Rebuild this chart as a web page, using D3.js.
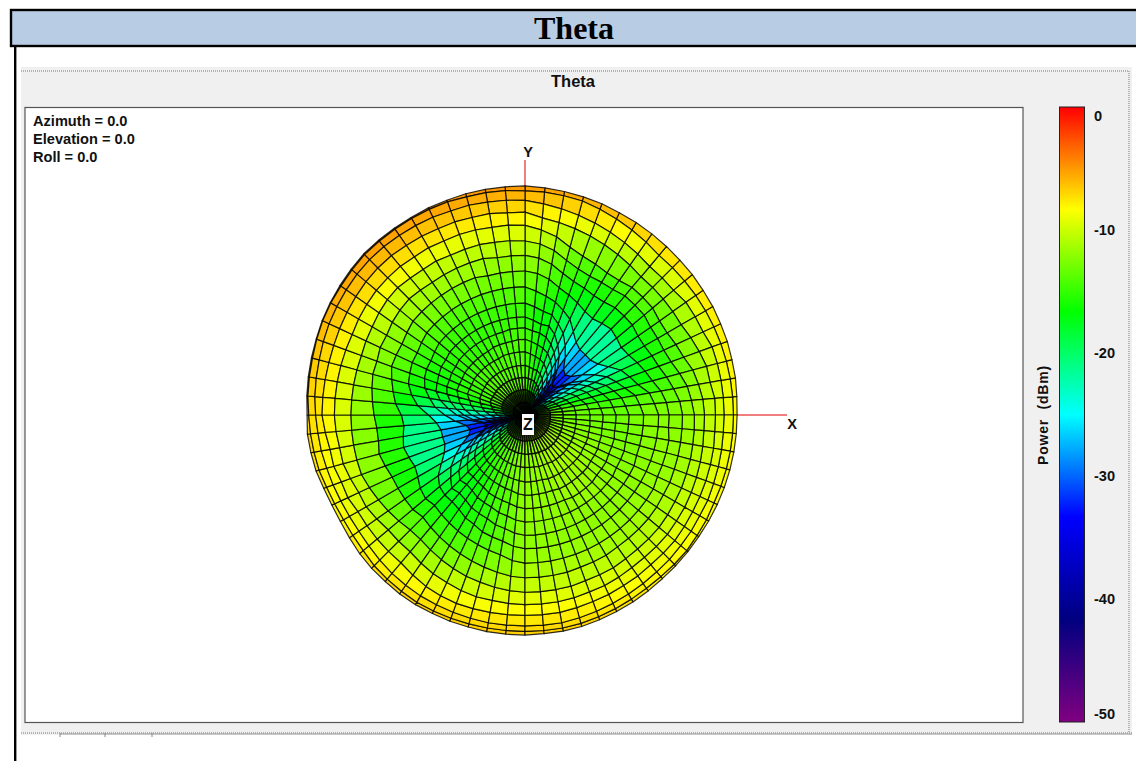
<!DOCTYPE html>
<html><head><meta charset="utf-8">
<style>html,body{margin:0;padding:0;background:#fff;overflow:hidden}svg{display:block}</style>
<script src="https://cdnjs.cloudflare.com/ajax/libs/d3/7.8.5/d3.min.js"></script>
</head><body><svg id="c" width="1136" height="761"></svg>
<script>
const pageTitle = "Theta";
const chartTitle = "Theta";
const orientation = ["Azimuth = 0.0", "Elevation = 0.0", "Roll = 0.0"];
const axisLabels = ["X", "Y", "Z"];
const legendTitle = "Power  (dBm)";
const legendTicks = [0, -10, -20, -30, -40, -50];
const colorStops = [0, -8.33, -16.67, -25, -33.33, -41.67, -50];
const colorNames = ["#ff0000", "#ffff00", "#00ff00", "#00ffff", "#0000ff", "#000080", "#800080"];
const thetaDegrees = [5,10,15,20,25,30,35,40,45,50,55,60,65,70,75,80,85,90];
const ringFractions = [.065,.135,.205,.275,.35,.42,.49,.56,.63,.70,.765,.825,.875,.91,.945,.975,.995,1];
const poleValue = -13;
// Power (dBm) at phi = 0,5,...,355 for each theta ring
const ring05 = [-13,-13,-13.5,
 -15,-16,-17,-20,-24,-30,-40,-30,-24,-20,-17,-16,-15,
 -14.5,-14,-13,-13,-13,-13,-13,-13,-13,-13,-13,-13,-13,-13.5,-13.5,-14,-14,
 -15,-16,-17,-20,-24,-30,-40,-30,-24,-20,-17,-16,-15,
 -14.5,-14,-13.5,-13.5,-13,-13,-12.5,-12,-12,-12,-12,-11.5,-11.5,-11.5,-11,-11,-11,-11,-11,-11.5,-11.5,-12,-12,-12.5,-12.5,-13];
const ring10 = [-13,-13,-13.5,
 -15.5,-17,-19,-22,-26,-32,-40,-32,-26,-22,-19,-17,-15.5,
 -15,-14,-13,-13,-13,-13,-13,-13,-13,-13,-13,-13,-13,-13.5,-13.5,-14,-14,
 -15.5,-17,-19,-22,-26,-32,-40,-32,-26,-22,-19,-17,-15.5,
 -14.5,-14,-13.5,-13.5,-13,-13,-12.5,-12,-12,-12,-12,-11.5,-11.5,-11.5,-11,-11,-11,-11,-11,-11.5,-11.5,-12,-12,-12.5,-12.5,-13];
const ring15 = [-13,-13.5,-14,
 -16,-18,-20,-23,-27,-33,-40,-33,-27,-23,-20,-18,-16,
 -15,-14.5,-13.5,-13.5,-13.5,-13.5,-13.5,-13.5,-13.5,-13.5,-13.5,-13.5,-13.5,-14,-14,-14,-14,
 -16,-18,-20,-23,-27,-33,-40,-33,-27,-23,-20,-18,-16,
 -15,-14.5,-14,-13.5,-13.5,-13,-12.5,-12.5,-12,-12,-12,-11.5,-11.5,-11.5,-11,-11,-11,-11,-11,-11.5,-11.5,-12,-12,-12.5,-12.5,-13];
const ring20 = [-13,-13.5,-14,
 -16.5,-18,-20.5,-24,-28,-33,-40,-33,-28,-24,-20.5,-18,-16.5,
 -16,-15,-14,-14,-14,-14,-14,-14,-14,-14,-14,-14,-14,-14.5,-14.5,-15,-15,
 -16.5,-18,-20.5,-24,-28,-33,-40,-33,-28,-24,-20.5,-18,-16.5,
 -15.5,-15,-14.5,-14,-13.5,-13,-12.5,-12.5,-12,-12,-12,-11.5,-11.5,-11.5,-11,-11,-11,-11,-11,-11.5,-11.5,-12,-12,-12.5,-12.5,-13];
const ring25 = [-13,-13.5,-14.5,
 -17,-18.5,-21,-24,-28,-33,-40,-33,-28,-24,-21,-18.5,-17,
 -16,-15,-14,-14,-14,-14,-14,-14.5,-14.5,-14.5,-14.5,-14.5,-14.5,-14.5,-15,-15,-15,
 -17,-18.5,-21,-24,-28,-33,-40,-33,-28,-24,-21,-18.5,-17,
 -16,-15.5,-15,-14.5,-14,-13.5,-13,-12.5,-12,-12,-12,-12,-11.5,-11.5,-11.5,-11.5,-11.5,-11.5,-11.5,-11.5,-12,-12,-12,-12.5,-12.5,-13];
const ring30 = [-13,-14,-15,
 -17,-18.5,-21,-24,-28,-33,-39,-33,-28,-24,-21,-18.5,-17,
 -16,-15,-14,-14,-14.5,-14.5,-14.5,-14.5,-15,-15,-15,-15,-15,-15,-15.5,-15.5,-15.5,
 -17,-18.5,-21,-24,-28,-33,-39,-33,-28,-24,-21,-18.5,-17,
 -16.5,-16,-15.5,-15,-14.5,-14,-13.5,-12.5,-12,-12,-12,-12,-12,-11.5,-11.5,-11.5,-11.5,-11.5,-11.5,-12,-12,-12,-12.5,-12.5,-13,-13];
const ring35 = [-13,-14,-15,
 -17,-19,-21.5,-24.5,-28,-32,-37,-32,-28,-24.5,-21.5,-19,-17,
 -16,-15.5,-14.5,-14.5,-14.5,-15,-15,-15,-15,-15,-15,-15,-15,-15.5,-15.5,-16,-16,
 -17,-19,-21.5,-24.5,-28,-32,-37,-32,-28,-24.5,-21.5,-19,-17,
 -17,-16.5,-16,-15,-14.5,-14,-13.5,-12.5,-12,-12,-12,-12,-12,-12,-11.5,-11.5,-11.5,-11.5,-12,-12,-12,-12.5,-12.5,-12.5,-13,-13];
const ring40 = [-13,-14,-15,
 -17,-19,-22,-25,-29,-33,-35,-33,-29,-25,-22,-19,-17,
 -17,-16,-15,-15,-15,-15,-15,-15,-15,-15,-15,-15,-15,-15.5,-15.5,-16,-16.5,
 -17,-19,-22,-25,-29,-33,-35,-33,-29,-25,-22,-19,-17,
 -17.5,-17,-16,-15.5,-15,-14,-13.5,-12.5,-12,-12,-12,-12,-12,-12,-12,-12,-12,-12,-12,-12,-12.5,-12.5,-12.5,-13,-13,-13];
const ring45 = [-12.5,-13.5,-14.5,
 -17,-19,-21,-24,-27,-30,-31,-30,-27,-24,-21,-19,-17,
 -16.5,-15.5,-14.5,-14.5,-14.5,-14.5,-14.5,-14.5,-14.5,-14.5,-14.5,-14.5,-14.5,-15,-15.5,-15.5,-16,
 -17,-19,-21,-24,-27,-30,-31,-30,-27,-24,-21,-19,-17,
 -17.5,-17,-16,-15.5,-15,-14,-13.5,-12.5,-12,-12,-12,-12,-12,-12,-12,-12,-12,-12,-12,-12,-12,-12,-12.5,-12.5,-12.5,-12.5];
const ring50 = [-12,-13,-14,
 -16.5,-18,-19.5,-22,-24,-25,-25,-25,-24,-22,-19.5,-18,-16.5,
 -15.5,-14.5,-13.5,-13.5,-13.5,-13.5,-13.5,-13.5,-13.5,-13.5,-13.5,-13.5,-13.5,-14,-14.5,-14.5,-15,
 -15.5,-17,-19,-22,-24,-25,-25,-25,-24,-22,-19.5,-18,-17.5,
 -17.5,-17,-16,-15.5,-14.5,-14,-13.5,-12.5,-12,-12,-12,-12,-12,-12,-12,-12,-12,-12,-12,-12,-12,-12,-12,-12,-12,-12];
const ring55 = [-12.5,-13,-14,
 -15.5,-16.5,-17.5,-18.5,-19,-18.5,-18,-18.5,-19,-18.5,-17.5,-16.5,-15.5,
 -14,-13,-12.5,-12.5,-12.5,-12.5,-12,-12,-12,-12,-12,-12,-12,-12.5,-13,-13,-13,
 -14,-15,-16,-17.5,-18,-17.5,-17,-17.5,-18,-17.5,-16.5,-16,-16.5,
 -16,-15.5,-15,-14.5,-14,-13.5,-13,-12,-11.5,-11.5,-11.5,-11.5,-11.5,-11.5,-11.5,-11.5,-11.5,-11.5,-11.5,-11.5,-11.5,-12,-12,-12,-12,-12.5];
const ring60 = [-12,-12.5,-13.5,
 -14.5,-15.5,-16,-16.5,-16.5,-16,-16,-16,-16.5,-16.5,-16,-15.5,-14.5,
 -13,-12,-11.5,-11.5,-11.5,-11,-11,-11,-11,-11,-10.8,-10.5,-10.7,-11,-11.5,-11.5,-12,
 -12,-12.5,-13,-13.5,-14,-14,-13.5,-14,-14.5,-14.5,-14.5,-14.5,-15,
 -14.5,-14,-13.5,-13,-12.5,-12,-11.5,-11,-10.8,-10.8,-10.8,-10.8,-11,-11,-11,-11.2,-11.2,-11.2,-11.2,-11.3,-11.5,-11.5,-11.7,-11.8,-11.9,-12];
const ring65 = [-11.5,-12,-12.5,
 -13.5,-14.5,-15,-15,-15,-14.5,-14.5,-14.5,-15,-15,-15,-14.5,-13.5,
 -12,-11,-10.5,-10.3,-10.2,-10,-10,-10,-9.7,-9.7,-9.5,-9.2,-9.3,-9.6,-10,-10.2,-10.5,
 -10.5,-10.5,-10.5,-10.5,-10.5,-10.5,-10.5,-10.5,-11,-11.5,-12,-12.5,-13,
 -13,-12.5,-12,-11.5,-11,-10.7,-10.3,-10,-9.8,-9.8,-9.8,-9.8,-10,-10,-10,-10.2,-10.3,-10.3,-10.3,-10.5,-10.7,-10.8,-11,-11.1,-11.3,-11.4];
const ring70 = [-10.8,-11,-11.5,
 -12,-13,-13.5,-14,-14,-13.5,-13.5,-13.5,-14,-14,-13.5,-13,-12,
 -10.5,-9.5,-8.7,-8.5,-8.5,-8.3,-8.2,-8.2,-8,-8,-7.8,-7.8,-7.8,-8,-8.2,-8.5,-8.5,
 -8.5,-8.5,-8.5,-8.5,-8.7,-9,-9,-9.5,-10,-10,-10.5,-11,-11,
 -11,-10.5,-10,-9.7,-9.3,-9,-9,-8.8,-8.7,-8.7,-8.7,-8.8,-9,-9,-9.2,-9.4,-9.5,-9.5,-9.5,-9.7,-9.8,-10,-10.2,-10.4,-10.6,-10.8];
const ring75 = [-10,-10,-10.5,
 -10.5,-11,-11.5,-12,-12,-12,-12,-12,-11.5,-11,-10.5,-10,-9.5,
 -9,-8.5,-7.5,-7.5,-7.2,-7.2,-7,-7,-6.8,-6.7,-6.5,-6.5,-6.6,-6.8,-7,-7.2,-7.4,
 -7.5,-7.5,-7.5,-7.5,-8,-8.5,-8.5,-9,-9,-9.5,-9.5,-9.5,-9.5,
 -9.5,-9,-8.5,-8.2,-8,-8,-8,-8,-8,-8,-8,-8.2,-8.4,-8.5,-8.7,-8.8,-9,-9,-9,-9.2,-9.4,-9.5,-9.6,-9.7,-9.8,-10];
const ring80 = [-9.5,-9.5,-9.5,
 -9.5,-9.5,-10,-10,-10,-10.5,-10.5,-10.5,-10,-9.5,-9,-8.5,-8,
 -7.5,-7,-6.5,-6.3,-6.2,-6,-6,-5.8,-5.7,-5.6,-5.5,-5.5,-5.6,-5.8,-6,-6.2,-6.5,
 -6.8,-7,-7.2,-7.5,-7.8,-8,-8.3,-8.5,-8.7,-8.8,-8.8,-8.6,-8.3,
 -8,-7.8,-7.6,-7.5,-7.4,-7.3,-7.2,-7.2,-7.2,-7.2,-7.2,-7.4,-7.6,-7.8,-8,-8.2,-8.4,-8.5,-8.7,-8.8,-9,-9,-9.2,-9.3,-9.4,-9.5];
const ring85 = [-8.5,-8.5,-8.5,
 -8.5,-8.5,-8.5,-8.5,-8.5,-8.5,-8.5,-8.5,-8,-7.5,-7,-6.5,-6,
 -5.8,-5.6,-5.5,-5.3,-5.2,-5.2,-5,-5,-5,-5,-5,-5,-5.2,-5.4,-5.5,-5.7,-6,
 -6.3,-6.5,-6.7,-7,-7.2,-7.4,-7.6,-8,-8.2,-8.3,-8.2,-8,-7.6,
 -7.4,-7.2,-7,-7,-7,-7,-7,-7,-7,-7,-7,-7.1,-7.3,-7.5,-7.7,-7.9,-8,-8,-8,-8.2,-8.3,-8.5,-8.5,-8.5,-8.5,-8.5];
const ring90 = [-8,-7.9,-7.7,
 -7.6,-7.4,-7.3,-7.1,-7,-6.8,-6.7,-6.5,-6.3,-6.1,-5.9,-5.6,-5.4,
 -5.2,-5,-4.8,-4.8,-4.8,-4.8,-4.9,-4.9,-5,-5,-5,-5,-5.2,-5.4,-5.6,-5.8,-6.1,
 -6.3,-6.5,-6.7,-6.9,-6.8,-7,-7.2,-7.6,-7.8,-7.8,-7.6,-7.3,-7.1,
 -7,-6.8,-6.7,-6.7,-6.6,-6.6,-6.5,-6.5,-6.5,-6.6,-6.6,-6.7,-6.9,-7.1,-7.3,-7.5,-7.7,-7.8,-7.9,-8,-8,-8,-8,-8,-8,-8];
const rings = [ring05,ring10,ring15,ring20,ring25,ring30,ring35,ring40,ring45,ring50,ring55,ring60,ring65,ring70,ring75,ring80,ring85,ring90];
const innerLineWidths = [2.4,1.8,1.5,1.3];
const phiCount = 72;

const sans = "'Liberation Sans',Arial,sans-serif";
const svg = d3.select("#c");
const W = 1136, H = 761;

// ---- page frame
svg.append("rect").attr("x",11).attr("y",10).attr("width",W).attr("height",36)
  .attr("fill","#b8cce4").attr("stroke","#000").attr("stroke-width",2.4);
svg.append("text").attr("x",574).attr("y",39).attr("text-anchor","middle")
  .attr("font-family","'Liberation Serif','Times New Roman',serif").attr("font-weight","bold")
  .attr("font-size",32).text(pageTitle);
svg.append("rect").attr("x",14).attr("y",47).attr("width",2.4).attr("height",H-47).attr("fill","#000");

// ---- control panel
svg.append("rect").attr("x",21).attr("y",67).attr("width",1111).attr("height",668).attr("fill","#f0f0f0");
const dotted = (x1,y1,x2,y2)=>svg.append("line").attr("x1",x1).attr("y1",y1).attr("x2",x2).attr("y2",y2)
  .attr("stroke","#777").attr("stroke-width",1).attr("stroke-dasharray","1 1");
dotted(21,71,1129,71); dotted(1129,71,1129,733); dotted(21,733,1132,733);
svg.append("line").attr("x1",60).attr("y1",734).attr("x2",1132).attr("y2",734).attr("stroke","#999").attr("stroke-width",1);
[60,105,152].forEach(x=>svg.append("line").attr("x1",x).attr("x2",x).attr("y1",733).attr("y2",737).attr("stroke","#888"));
svg.append("text").attr("x",573).attr("y",87).attr("text-anchor","middle")
  .attr("font-family",sans).attr("font-weight","bold").attr("font-size",16.5).attr("fill","#111").text(chartTitle);
svg.append("rect").attr("x",25).attr("y",107.5).attr("width",998).attr("height",615)
  .attr("fill","#fff").attr("stroke","#555").attr("stroke-width",1.2);
svg.append("g").selectAll("text").data(orientation).join("text")
  .attr("x",33).attr("y",(d,i)=>126+i*18).attr("font-family",sans).attr("font-weight","bold")
  .attr("font-size",14.6).attr("fill","#111").text(d=>d);

// ---- scales
const color = d3.scaleLinear().domain(colorStops).range(colorNames).interpolate(d3.interpolateRgb).clamp(true);
const rho = d3.scaleLinear().domain([-48,-5]).range([0,228]);
const cx = 525, cy = 415;
const phiScale = d3.scaleLinear().domain([0,phiCount]).range([Math.PI/2, Math.PI/2-2*Math.PI]);
const vertex = (i,j)=>{ // i: 0 = pole, 1.. = ring
  const jj = (j+phiCount)%phiCount;
  const v = i===0 ? poleValue : rings[i-1][jj];
  const f = i===0 ? 0 : ringFractions[i-1];
  const th = i===0 ? 0 : thetaDegrees[i-1]*Math.PI/180;
  const p = d3.pointRadial(phiScale(jj), rho(v)*f);
  return {x:cx+p[0], y:cy+p[1], v, z:rho(v)*Math.cos(th)};
};

// ---- red axes (under the surface)
const axesG = svg.append("g").attr("stroke","#e00000").attr("stroke-width",1);
axesG.append("line").attr("x1",cx).attr("y1",cy).attr("x2",787).attr("y2",cy);
axesG.append("line").attr("x1",cx).attr("y1",cy).attr("x2",cx).attr("y2",160);

// ---- mesh
const cells = [];
for (let i=0;i<rings.length;i++) for (let j=0;j<phiCount;j++){
  const vs = [vertex(i,j),vertex(i,j+1),vertex(i+1,j+1),vertex(i+1,j)];
  cells.push({pts:vs, ring:i, val:d3.mean(vs,d=>d.v), z:d3.mean(vs,d=>d.z)});
}
cells.sort((a,b)=>a.z-b.z);
const line = d3.line().x(d=>d.x).y(d=>d.y).curve(d3.curveLinearClosed);
svg.append("g").selectAll("path").data(cells).join("path")
  .attr("d",d=>line(d.pts)).attr("fill",d=>color(d.val))
  .attr("stroke","#000").attr("stroke-opacity",.82)
  .attr("stroke-width",d=>innerLineWidths[d.ring]||1.2).attr("stroke-linejoin","round");

// ---- axis names
const axisFont = g=>g.attr("font-family",sans).attr("font-weight","bold").attr("font-size",14.6).attr("text-anchor","middle").attr("fill","#111");
svg.append("text").call(axisFont).attr("x",792).attr("y",429).text(axisLabels[0]);
svg.append("text").call(axisFont).attr("x",528).attr("y",157).text(axisLabels[1]);
svg.append("rect").attr("x",522).attr("y",414).attr("width",12).attr("height",21).attr("fill","#fff");
svg.append("text").call(axisFont).attr("x",528).attr("y",430).attr("font-size",16).text(axisLabels[2]);

// ---- colour bar
const barY = d3.scaleLinear().domain([0,-50]).range([107,722]);
const grad = svg.append("defs").append("linearGradient").attr("id","bar").attr("x1",0).attr("x2",0).attr("y1",0).attr("y2",1);
grad.selectAll("stop").data(colorStops).join("stop")
  .attr("offset",d=>(barY(d)-barY(0))/(barY(-50)-barY(0))).attr("stop-color",d=>color(d));
svg.append("rect").attr("x",1059.5).attr("y",barY(0)).attr("width",25).attr("height",barY(-50)-barY(0))
  .attr("fill","url(#bar)").attr("stroke","#222").attr("stroke-width",1);
svg.append("g").selectAll("text").data(legendTicks).join("text")
  .attr("x",1094).attr("y",d=>Math.min(714,Math.max(116,barY(d)))+5)
  .attr("font-family",sans).attr("font-weight","bold").attr("font-size",14.6).attr("fill","#111").text(d=>d);
svg.append("text").attr("transform","translate(1048,415) rotate(-90)").attr("text-anchor","middle")
  .attr("font-family",sans).attr("font-weight","bold").attr("font-size",14).attr("letter-spacing",.8)
  .style("white-space","pre").attr("fill","#111").text(legendTitle);
</script></body></html>
